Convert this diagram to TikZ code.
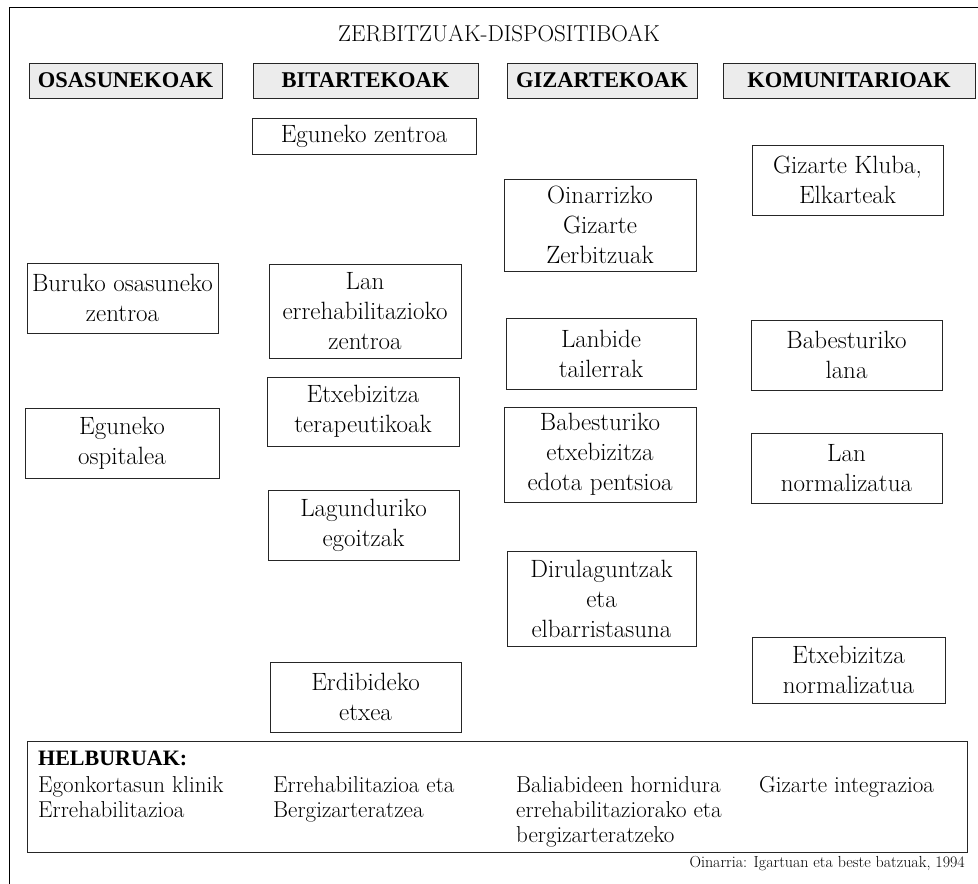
\documentclass[tikz,border=0pt]{standalone}
\usepackage{fontspec}
\newfontfamily\headfont{Liberation Serif}

\begin{document}
\begin{tikzpicture}[x=1pt, y=-1pt,
    frameline/.style = {draw = black!85, line width = 0.9pt},
    head/.style = {frameline, fill = gray!15, inner sep = 0pt, anchor = center,
        font = \headfont\bfseries\fontsize{22.5}{26}\selectfont},
    unit/.style = {frameline, inner sep = 0pt, anchor = center, align = center,
        font = \fontsize{25}{30}\selectfont},
    goal/.style = {inner sep = 0pt, anchor = base west,
        font = \fontsize{23}{25}\selectfont}]
    \useasboundingbox (0,0) rectangle (978,884);
    \draw[line width = 0.9pt] (9,884) -- (9,7) -- (978,7);
    \node[anchor = center, font = \fontsize{23}{26}\selectfont] (title) at (499,34){ZERBITZUAK-DISPOSITIBOAK};

    % zutabeen izenburuak
    \node[head, minimum width = 193, minimum height = 35] (osas) at (125.5,80.5){OSASUNEKOAK};
    \node[head, minimum width = 225, minimum height = 35] (bitar) at (365.5,80.5){BITARTEKOAK};
    \node[head, minimum width = 190, minimum height = 35] (gizar) at (602,80.5){GIZARTEKOAK};
    \node[head, minimum width = 252, minimum height = 35] (komun) at (849,80.5){KOMUNITARIOAK};

    % osasunekoak
    \node[unit, minimum width = 191, minimum height = 70] (buruko) at (122.5,298){Buruko osasuneko\\zentroa};
    \node[unit, minimum width = 194, minimum height = 70] (egospit) at (122,443){Eguneko\\ospitalea};

    % bitartekoak
    \node[unit, minimum width = 224, minimum height = 36] (egzentro) at (364,136){Eguneko zentroa};
    \node[unit, minimum width = 192, minimum height = 94] (lanerre) at (365,311){Lan\\errehabilitazioko\\zentroa};
    \node[unit, minimum width = 192, minimum height = 69] (etxeter) at (363,411.5){Etxebizitza\\terapeutikoak};
    \node[unit, minimum width = 191, minimum height = 70] (lagund) at (363.5,525){Lagunduriko\\egoitzak};
    \node[unit, minimum width = 191, minimum height = 70] (erdib) at (365.5,697){Erdibideko\\etxea};

    % gizartekoak
    \node[unit, minimum width = 192, minimum height = 92] (oinarri) at (600,225){Oinarrizko\\Gizarte\\Zerbitzuak};
    \node[unit, minimum width = 190, minimum height = 71] (lanbide) at (601,353.5){Lanbide\\tailerrak};
    \node[unit, minimum width = 192, minimum height = 95] (babetxe) at (600,454.5){Babesturiko\\etxebizitza\\edota pentsioa};
    \node[unit, minimum width = 189, minimum height = 95] (dirul) at (601.5,598.5){Dirulaguntzak\\eta\\elbarristasuna};

    % komunitarioak
    \node[unit, minimum width = 191, minimum height = 70] (klub) at (847.5,180){Gizarte Kluba,\\Elkarteak};
    \node[unit, minimum width = 191, minimum height = 70] (babelan) at (846.5,355){Babesturiko\\lana};
    \node[unit, minimum width = 191, minimum height = 70] (lannorm) at (846.5,468){Lan\\normalizatua};
    \node[unit, minimum width = 193, minimum height = 66] (etxenorm) at (848.5,670){Etxebizitza\\normalizatua};

    % helburuak
    \node[frameline, inner sep = 0pt, minimum width = 940, minimum height = 111] (helb) at (497,796.5){};
    \node[goal, font = \headfont\bfseries\fontsize{22}{25}\selectfont] (helbt) at (38,765){HELBURUAK:};
    \node[goal] (g1a) at (38,792){Egonkortasun klinik};
    \node[goal] (g1b) at (38,817){Errehabilitazioa};
    \node[goal] (g2a) at (273,792){Errehabilitazioa eta};
    \node[goal] (g2b) at (273,817){Bergizarteratzea};
    \node[goal] (g3a) at (516,792){Baliabideen hornidura};
    \node[goal] (g3b) at (516,817){errehabilitaziorako eta};
    \node[goal] (g3c) at (516,842){bergizarteratzeko};
    \node[goal] (g4a) at (759,792){Gizarte integrazioa};

    \node[inner sep = 0pt, anchor = base east, font = \fontsize{16}{18}\selectfont] (iturria) at (965,867){Oinarria: Igartuan eta beste batzuak, 1994};
\end{tikzpicture}
\end{document}
